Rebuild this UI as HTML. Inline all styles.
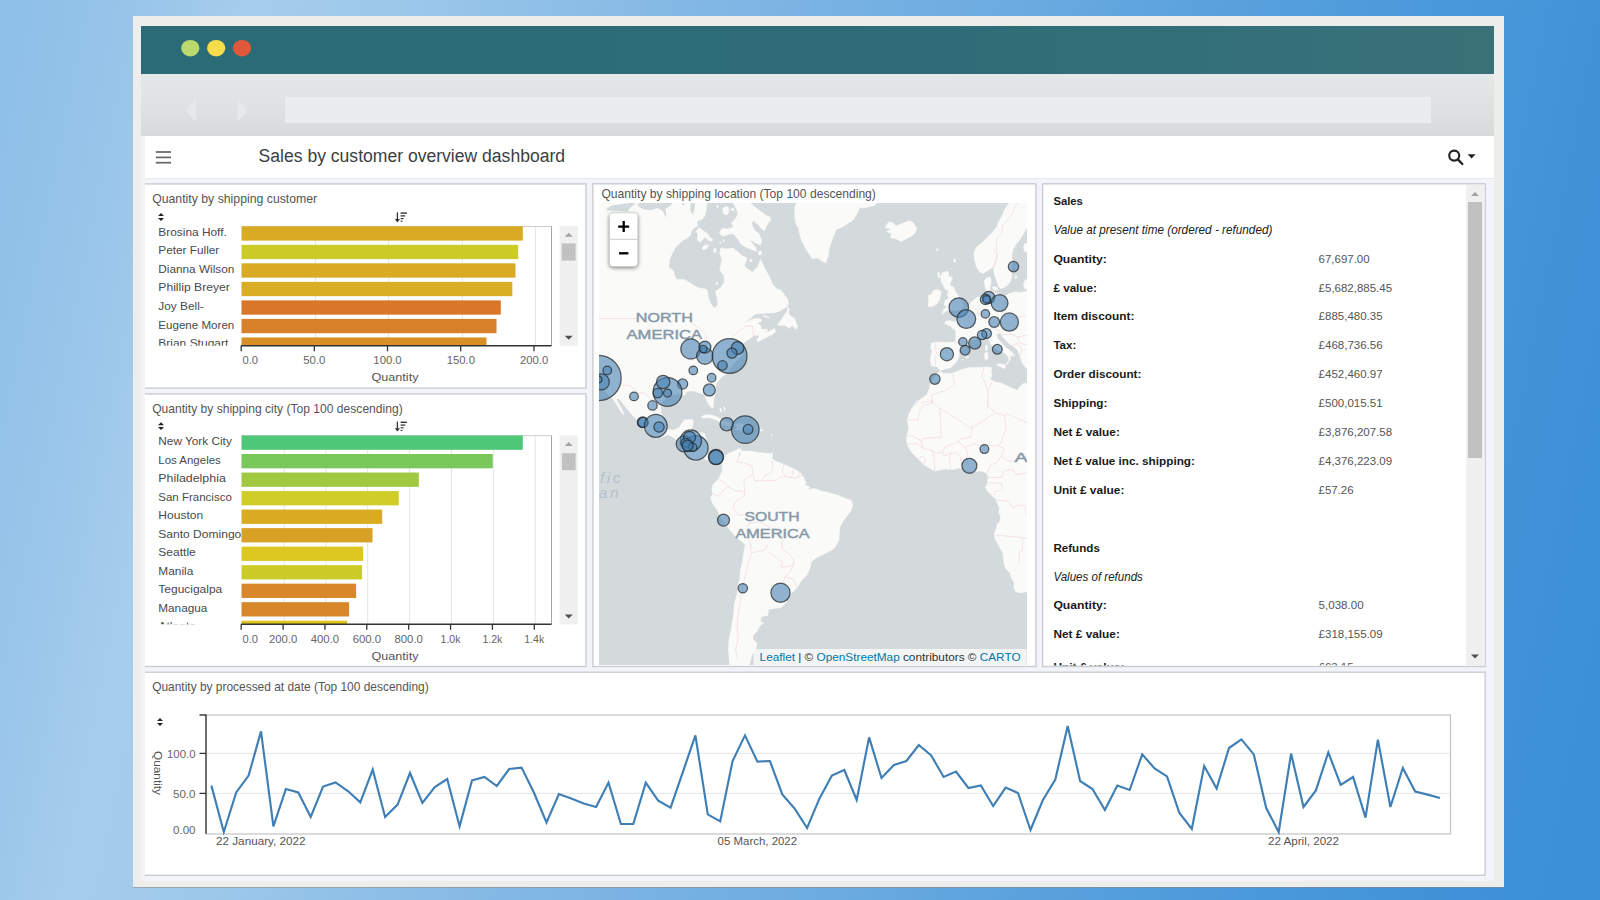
<!DOCTYPE html>
<html lang="en"><head><meta charset="utf-8"><title>Sales by customer overview dashboard</title>
<style>
html,body{margin:0;padding:0;}
body{width:1600px;height:900px;overflow:hidden;position:relative;font-family:"Liberation Sans", sans-serif;
 background:linear-gradient(101.3deg,#8dbfe7 0%,#97c4e9 7%,#a6cdec 14%,#9dc8ea 22%,#8bbde6 33%,#7ab3e3 45%,#6dace1 56%,#5ba2dd 67.5%,#4c9adb 79%,#4193d8 90%,#3a8fd6 100%);}
.abs{position:absolute;}
#frame{left:133px;top:16px;width:1371px;height:870.5px;background:#ededec;box-shadow:0 1px 0 rgba(150,130,110,.5);}
#teal{left:141px;top:26px;width:1353px;height:47.5px;background:linear-gradient(90deg,#2b6b75 0%,#2e6d77 60%,#35707a 85%,#3b7177 100%);}
#tool{left:141px;top:73.5px;width:1353px;height:62px;background:linear-gradient(180deg,#e4e8e8 0%,#dde1e1 60%,#d6dada 100%);}
#addr{left:285px;top:96.5px;width:1146px;height:26px;background:#eaeced;}
#app{left:145px;top:136px;width:1349px;height:744.5px;background:#f2f4f9;overflow:hidden;}
#lgap{left:141px;top:136px;width:4px;height:744.5px;background:#f3f3f3;}
#hdr{left:0;top:0;width:1349px;height:41.5px;background:#fff;border-bottom:1px solid #e6e9ee;}
.panel{background:#fff;border:1.5px solid #c6cacf;box-sizing:border-box;}
svg text{font-family:"Liberation Sans", sans-serif;}
</style></head>
<body>
<div id="frame" class="abs"></div>
<div id="teal" class="abs">
 <svg class="abs" style="left:0;top:0" width="1353" height="48">
  <ellipse cx="49.3" cy="22.2" rx="9.1" ry="8.3" fill="#bcd96e"/>
  <ellipse cx="75.2" cy="22.2" rx="9.1" ry="8.3" fill="#f5dc4a"/>
  <ellipse cx="101" cy="22.2" rx="9.1" ry="8.3" fill="#e1573a"/>
 </svg>
</div>
<div id="tool" class="abs">
 <svg class="abs" style="left:0;top:0" width="1353" height="62">
  <path d="M44.5 36.5 L55 25 V48 Z" fill="#e6e9ea"/>
  <path d="M96.5 25 L106.5 36.5 L96.5 48 Z" fill="#e6e9ea"/>
 </svg>
</div>
<div id="addr" class="abs"></div>
<div id="lgap" class="abs"></div>
<div id="app" class="abs">
 <div id="hdr" class="abs"></div>
 <svg class="abs" style="left:0;top:0" width="1349" height="745" viewBox="145 136 1349 745">
  <g fill="#fff" stroke="#c9cdd2" stroke-width="1.4">
   <rect x="130" y="183.9" width="456" height="204.2"/>
   <rect x="130" y="393.9" width="456" height="272.6"/>
   <rect x="592.9" y="183.8" width="443" height="482.7"/>
   <rect x="1042.6" y="183.8" width="442.6" height="482.7"/>
   <rect x="130" y="672.2" width="1355.2" height="203.1"/>
  </g>
 </svg>
</div>
<svg class="abs" style="left:599.4px;top:203.3px" width="427.4" height="461.4" viewBox="599.4 203.3 427.4 461.4">
<defs><filter id="zs" x="-30%" y="-20%" width="160%" height="140%"><feGaussianBlur stdDeviation="2"/><feOffset dy="1"/></filter></defs>
<rect x="598.4" y="202.3" width="429.4" height="463.4" fill="#d4dadc"/>
<g fill="#fafaf8" stroke="#fafaf8" stroke-width="0.5" stroke-linejoin="round">
<path d="M590 195 L708 195 L707.6 203.0 L706.6 209.7 L705.3 216.3 L701.9 219.7 L698.6 221.0 L697.3 223.0 L698.6 225.7 L695.3 227.7 L692.6 229.7 L691.2 235.0 L687.9 238.3 L684.6 239.7 L680.6 243.0 L675.9 247.7 L672.3 254.3 L669.9 260.3 L669.2 267.7 L673.9 271.0 L675.9 277.7 L677.2 279.7 L684.6 279.7 L691.2 283.7 L698.6 288.1 L706.0 289.4 L708.0 291.0 L708.4 296.3 L710.6 303.0 L714.6 308.6 L718.3 305.0 L717.3 297.7 L716.0 291.7 L721.3 287.7 L724.7 282.3 L724.4 275.7 L720.0 270.3 L721.3 265.0 L722.3 259.0 L720.0 253.7 L721.3 248.3 L726.7 249.3 L733.4 248.3 L738.0 252.1 L742.7 256.1 L747.4 258.3 L746.1 263.0 L744.5 265.7 L747.1 268.6 L752.7 272.6 L757.8 267.7 L761.0 259.7 L765.4 269.0 L770.1 277.7 L772.8 284.6 L778.1 289.7 L780.5 290.0 L783.5 293.0 L785.8 296.8 L788.4 299.8 L788.8 303.6 L788.0 307.0 L784.2 308.9 L780.5 311.2 L775.9 312.7 L769.1 313.4 L762.3 313.8 L755.5 314.2 L753.3 316.5 L749.5 319.5 L745.7 323.3 L742.7 327.8 L744.9 324.4 L750.2 320.6 L755.5 318.9 L760.8 319.1 L762.3 321.0 L758.5 323.3 L757.0 323.6 L760.8 325.5 L761.6 329.3 L764.6 331.2 L768.4 332.3 L772.9 330.1 L774.4 328.5 L776.3 331.6 L772.9 334.6 L768.4 336.9 L762.3 339.9 L758.5 342.2 L757.0 340.3 L760.1 336.1 L757.0 335.4 L754.0 336.1 L750.2 339.1 L744.9 342.2 L742 346 L741 352 L744 355 L740 358 L735 363 L730 370 L725.8 374.9 L722.0 377.2 L719.7 380.2 L717.4 383.3 L716.3 385.5 L716.1 389.3 L715.9 393.8 L714.4 398.4 L714.0 402.9 L713.7 407.4 L712.2 408.6 L709.9 405.9 L707.6 402.2 L706.1 398.4 L705.4 396.1 L703.5 394.2 L699.3 393.1 L695.5 391.6 L691.7 391.2 L688.0 391.6 L685.7 393.1 L686.1 395.4 L682.7 394.6 L678.1 394.2 L673.6 394.6 L669.1 396.1 L664.5 399.9 L661.8 403.0 L660.8 408.3 L661.2 412.3 L663.2 417.7 L665.2 423.7 L667.2 429.7 L673.9 430.3 L679.2 428.3 L682.6 423.0 L684.6 420.3 L692.6 419.7 L693.9 421.7 L692.6 427.0 L691.2 431.0 L692.6 433.0 L697.9 432.3 L704.6 433.7 L706.6 439.0 L707.3 448.3 L708.6 453.7 L712.6 454.3 L716.6 451.7 L722.0 453.7 L724.7 455.0 L723.3 464.3 L719.3 461.7 L714.0 462.3 L710.0 461.7 L704.6 459.0 L695.3 460.3 L685.9 453.7 L679.2 441.7 L673.9 437.7 L668.5 435.0 L661.8 437.7 L655.1 436.3 L645.8 432.3 L641.8 424.3 L636.4 419.0 L631.1 413.7 L625.7 407.0 L621.1 401.0 L619.1 398.3 L617.0 399.7 L619.7 405.0 L623.1 411.0 L624.4 415.0 L622.4 413.7 L619.1 408.3 L615.7 403.0 L612.4 397.7 L611.7 398.3 L607.0 393.0 L601.7 387.7 L596.3 382.3 L590 370Z"/>
<path d="M697.7 238.5 L698.5 234.7 L696.6 231.7 L699.2 227.9 L701.5 229.5 L704.5 231.7 L708.3 234.0 L709.4 237.0 L713.2 239.3 L712.5 241.5 L709.1 240.8 L705.3 237.4 L703.0 240.0 L700.0 242.7 L698.5 240.8Z"/>
<path d="M702.6 248.4 L704.5 245.7 L708.3 245.0 L708.7 246.8 L706.0 249.5 L703.4 249.9Z"/>
<path d="M714.0 249.9 L715.1 248.4 L716.5 249.0 L716.3 252.1 L714.7 253.3Z"/>
<path d="M719.8 241.9 L721.5 241.7 L721.9 243.4 L720.0 243.7Z"/>
<path d="M723.1 240.0 L724.3 240.4 L724.6 242.2 L723.6 241.7Z"/>
<path d="M716.0 284.3 L717.3 282.3 L718.3 283.0 L716.9 285.4Z"/>
<path d="M723.4 208.3 L726.1 206.6 L728.7 207.5 L729.3 211.3 L728.0 214.7 L724.9 215.1 L723.3 212.1Z"/>
<path d="M731.0 209.0 L734.0 208.9 L734.8 210.6 L731.7 210.9Z"/>
<path d="M717.0 206.0 L718.5 205.9 L718.6 207.5 L717.2 207.7Z"/>
<path d="M733.3 202.2 L735.5 206.8 L737.8 211.3 L738.2 215.1 L735.5 219.6 L731.7 223.4 L734.0 227.2 L730.2 228.7 L726.5 229.5 L723.4 228.3 L720.8 231.3 L720.3 234.0 L722.7 236.3 L726.1 236.1 L730.2 234.1 L734.0 234.4 L736.3 237.0 L739.3 240.8 L740.8 243.8 L744.6 246.5 L748.4 248.4 L752.9 250.2 L757.1 251.4 L755.9 247.6 L752.9 243.8 L749.1 240.0 L752.9 241.5 L757.4 243.8 L760.5 245.3 L761.6 243.8 L762.0 240.0 L760.5 237.0 L759.7 234.0 L756.7 232.1 L754.4 229.5 L752.9 226.4 L752.2 223.4 L754.0 220.8 L755.9 222.7 L759.7 225.7 L762.0 229.5 L765.0 231.0 L766.5 227.2 L768.0 224.2 L771.1 220.4 L770.3 217.4 L766.5 215.8 L762.7 212.8 L757.4 209.0 L752.9 205.3 L749.1 202.2Z"/>
<path d="M759.0 251.8 L761.6 251.4 L762.0 254.8 L759.3 255.2Z"/>
<path d="M750.2 260.1 L752.2 259.8 L752.3 261.7 L750.3 261.8Z"/>
<path d="M788.4 308.1 L787.3 311.9 L785.0 314.9 L782.7 318.7 L779.7 322.5 L777.8 324.8 L780.5 325.7 L785.8 325.7 L788.4 327.8 L789.5 328.7 L792.6 325.7 L794.5 327.8 L795.6 329.5 L797.2 328.7 L798.0 326.4 L796.5 323.3 L795.0 318.9 L791.2 316.5 L788.9 313.4 L789.7 308.9Z"/>
<path d="M763.5 315.7 L766.9 316.3 L770.0 318.1 L767.2 317.8 L764.2 316.6Z"/>
<path d="M763.5 329.9 L766.1 329.3 L768.4 330.4 L766.1 331.2Z"/>
<path d="M701.3 417.9 L704.6 415.3 L710.0 415.0 L715.3 416.3 L720.0 418.7 L726.0 421.7 L730.7 423.7 L732.7 425.9 L727.3 425.9 L722.7 425.0 L720.0 421.7 L714.0 419.3 L708.6 417.9 L705.3 418.3Z"/>
<path d="M734.7 425.0 L739.4 423.7 L744.7 424.6 L750.1 425.7 L754.1 428.3 L751.4 429.9 L746.1 429.9 L740.7 430.7 L735.4 429.9 L738.0 427.7Z"/>
<path d="M723.3 429.9 L726.7 429.4 L729.3 430.7 L726.0 431.5Z"/>
<path d="M759.4 429.9 L762.8 429.7 L763.0 431.0 L759.7 431.3Z"/>
<path d="M720.0 409.0 L721.3 408.3 L722.3 412.3 L720.9 412.1Z"/>
<path d="M724.0 407.3 L724.9 407.3 L726.0 410.7 L724.9 410.5Z"/>
<path d="M771.5 435.0 L772.3 434.7 L772.5 436.6 L771.7 436.6Z"/>
<path d="M771.5 453.7 L773.1 453.1 L773.3 454.5 L771.7 454.7Z"/>
<path d="M720.0 461.7 L723.3 457.7 L724.7 455.0 L725.5 456.7 L728.1 454.0 L733.5 452.0 L738.8 449.3 L740.8 448.7 L741.8 451.3 L742.8 451.3 L749.5 451.3 L760.2 452.7 L770.9 454.0 L772.9 455.3 L772.2 458.7 L777.6 462.0 L784.3 464.7 L793.6 468.7 L800.3 472.7 L804.3 478.0 L806.3 483.3 L803.0 487.3 L799.7 488.7 L805.7 485.3 L810.3 487.3 L808.3 490.0 L815.0 488.7 L821.7 491.3 L828.4 492.7 L837.8 495.3 L845.8 498.7 L851.8 500.7 L853.1 506.0 L851.1 511.3 L847.1 516.7 L843.1 522.0 L840.4 527.3 L839.8 534.0 L839.1 540.7 L836.4 546.0 L833.7 549.6 L836.4 545.0 L832.4 550.3 L824.4 554.3 L816.4 558.3 L811.7 562.3 L810.3 569.0 L807.0 575.7 L801.7 581.0 L797.6 587.7 L791.0 594.3 L785.6 603.7 L781.6 607.7 L773.6 609.0 L768.9 609.7 L768.2 615.7 L761.6 617.0 L760.9 622.3 L764.2 623.0 L760.2 626.3 L757.5 631.7 L753.5 635.7 L753.5 639.7 L757.5 643.7 L756.2 649.0 L752.2 655.7 L749.5 666.3 L730.1 666.3 L729.5 658.3 L728.8 649.0 L729.5 639.7 L731.5 630.3 L732.8 622.3 L734.1 614.3 L734.8 603.7 L737.5 594.3 L738.8 585.0 L740.2 579.7 L740.8 571.7 L742.8 562.3 L744.2 553.0 L745.5 545.0 L744.2 543.3 L738.8 539.3 L733.5 534.0 L728.1 527.3 L724.1 522.0 L720.1 515.3 L717.4 510.0 L713.4 504.7 L711.0 498.0 L713.4 494.0 L712.1 490.0 L713.4 484.7 L718.8 479.3 L722.8 471.3 L722.5 466.0 L723.4 461.3Z"/>
<path d="M801.0 487.3 L805.0 485.7 L808.6 487.3 L807.0 489.7 L802.3 489.5Z"/>
<path d="M738.8 660.3 L742.8 659.7 L744.2 666.3 L738.8 666.3Z"/>
<path d="M797.5 202.2 L878.9 201.7 L874.9 205.7 L864.2 208.3 L860.2 207.7 L857.5 213.7 L853.5 220.3 L845.5 225.7 L841.4 227.7 L836.8 229.7 L834.1 236.3 L831.4 243.0 L829.4 249.7 L828.7 256.3 L826.1 263.3 L822.7 261.9 L818.7 258.3 L812.6 258.9 L809.6 254.4 L805.8 248.4 L802.0 240.8 L800.5 235.5 L799.0 228.7 L796.0 222.7 L794.9 215.1 L795.2 207.5Z"/>
<path d="M885.6 227.7 L888.9 222.3 L893.6 223.0 L896.3 226.3 L901.6 224.3 L909.6 221.0 L913.6 223.0 L917.0 228.3 L916.3 232.3 L912.3 236.3 L905.6 239.7 L901.6 241.7 L896.3 239.0 L890.9 237.9 L892.2 233.9 L886.9 231.7 L891.2 229.7Z"/>
<path d="M937.0 249.0 L938.4 249.0 L938.4 250.7 L937.0 250.7Z"/>
<path d="M954.4 259.7 L955.7 259.7 L955.5 262.3 L954.5 262.3Z"/>
<path d="M928.3 305.3 L929.2 299.7 L928.7 295.9 L932.5 294.1 L933.9 290.8 L938.1 289.8 L941.4 291.7 L940.9 295.9 L940.0 300.6 L937.2 304.4 L933.4 306.2 L929.7 307.2Z"/>
<path d="M942.8 273.0 L947.5 271.6 L949.4 272.5 L948.4 276.2 L953.1 277.7 L951.2 281.9 L950.3 285.6 L954.1 287.5 L955.9 292.2 L958.7 295.9 L959.7 298.7 L962.5 302.5 L964.4 305.3 L963.4 308.1 L960.6 310.0 L955.0 310.9 L949.4 310.2 L945.6 311.9 L942.3 314.7 L943.7 310.0 L947.5 307.2 L944.7 305.3 L945.6 300.6 L949.4 298.7 L947.5 295.0 L949.4 291.2 L945.6 289.4 L943.7 285.6 L941.9 281.9 L940.9 277.2Z"/>
<path d="M938.1 273.0 L939.8 272.5 L940.0 278.1 L938.6 277.7Z"/>
<path d="M1011.1 201.1 L1007.8 205.6 L1004.4 211.1 L1002.2 216.7 L998.9 222.2 L996.7 227.8 L992.2 233.3 L986.7 238.9 L982.2 243.3 L976.7 247.8 L974.4 253.3 L975.0 260.0 L976.7 266.7 L980.0 272.2 L983.3 273.9 L987.8 271.1 L991.1 268.9 L993.9 266.7 L994.4 273.3 L996.7 280.0 L998.9 286.7 L1001.1 288.9 L1004.4 287.8 L1007.8 285.6 L1010.6 282.2 L1012.2 276.7 L1011.7 271.1 L1012.2 262.2 L1012.2 255.6 L1013.3 250.0 L1016.7 244.4 L1021.1 238.9 L1024.4 233.3 L1026.7 228.9 L1030.0 227.8 L1030.0 201.1Z"/>
<path d="M1030.0 243.3 L1025.0 243.9 L1024.2 247.8 L1024.7 251.7 L1030.0 252.2Z"/>
<path d="M1030.0 279.4 L1025.6 280.2 L1023.9 284.4 L1024.7 288.9 L1030.0 289.4Z"/>
<path d="M1015.6 276.7 L1016.7 275.6 L1017.1 278.3 L1015.9 279.4Z"/>
<path d="M954.4 260.0 L955.6 259.8 L955.8 262.4 L954.7 262.4Z"/>
<path d="M984.5 280.9 L987.8 278.1 L990.6 277.2 L991.6 281.9 L990.6 286.6 L989.9 291.2 L986.9 291.2 L985.5 286.6Z"/>
<path d="M992.5 287.5 L995.3 287.0 L998.3 288.4 L997.2 290.5 L993.9 290.1Z"/>
<path d="M1028.1 291.2 L1020.6 292.7 L1015.0 292.2 L1009.4 294.1 L1004.7 296.9 L998.1 294.1 L991.6 291.2 L985.0 294.1 L981.2 296.9 L977.5 297.8 L973.7 300.6 L970.0 304.4 L968.1 307.2 L964.4 310.9 L960.6 315.6 L956.9 321.2 L954.1 322.2 L949.4 320.8 L945.2 322.2 L945.6 324.1 L951.2 326.9 L955.0 330.6 L954.1 325.0 L955.9 330.6 L956.4 336.2 L955.9 340.9 L955.0 342.3 L945.6 342.8 L936.2 342.3 L931.6 343.7 L931.1 347.5 L932.5 351.2 L931.6 355.9 L930.6 360.6 L932.0 366.2 L938.1 367.2 L940.9 370.9 L945.6 369.1 L951.2 368.1 L955.0 364.4 L957.8 360.6 L959.7 355.9 L959.2 352.2 L961.6 348.4 L964.4 345.2 L967.2 342.8 L970.0 340.9 L978.4 339.1 L984.1 337.7 L987.8 338.1 L988.7 338.7 L990.0 341.3 L991.3 344.7 L994.7 348.0 L998.7 350.7 L1002.7 351.7 L1006.0 354.0 L1008.7 357.3 L1009.7 360.7 L1008.3 364.0 L1006.7 365.0 L1007.7 362.7 L1009.0 361.3 L1011.0 359.3 L1010.5 357.0 L1012.7 355.3 L1014.8 356.8 L1014.1 354.3 L1010.7 351.3 L1006.7 348.0 L1003.3 344.7 L1000.7 342.0 L998.0 338.7 L997.0 336.0 L998.0 334.0 L1000.0 333.3 L1002.7 336.7 L1006.7 341.3 L1010.7 344.7 L1014.7 347.3 L1018.0 350.7 L1020.0 355.3 L1021.3 359.3 L1022.7 363.3 L1024.7 366.0 L1026.7 368.7 L1032.0 369.3 L1035 195Z"/>
<path d="M940.9 371.9 L943.7 373.7 L951.2 373.7 L955.0 372.8 L961.6 370.0 L969.1 368.1 L978.4 367.7 L987.8 367.2 L992.0 368.1 L991.6 371.9 L992.5 375.6 L990.6 379.4 L995.3 382.2 L1000.9 383.1 L1006.6 385.9 L1013.1 388.7 L1017.8 390.6 L1020.6 386.9 L1023.4 384.1 L1028.1 383.1 L1028.1 591.9 L1019.7 593.3 L1015.5 591.4 L1014.1 587.7 L1015.0 583.4 L1012.2 578.7 L1010.3 573.1 L1006.6 569.4 L1004.7 564.7 L1004.2 560.0 L1003.7 558.7 L1003.3 553.1 L1000.9 549.4 L998.1 543.7 L995.3 539.1 L994.8 533.4 L996.7 528.7 L997.7 524.1 L1000.5 521.2 L1000.9 517.5 L999.1 511.9 L1000.0 509.1 L998.1 504.4 L996.2 499.7 L992.5 495.9 L987.8 491.2 L985.9 487.5 L987.8 483.7 L987.8 480.0 L988.3 480.6 L988.7 476.9 L986.9 474.1 L984.1 471.7 L979.4 471.2 L973.7 472.2 L967.2 470.8 L963.4 469.4 L959.7 468.4 L953.1 469.8 L945.6 469.4 L940.0 470.3 L935.3 471.2 L929.7 468.4 L924.1 464.7 L918.4 459.1 L913.7 454.4 L910.0 449.7 L908.1 445.0 L906.7 440.3 L908.1 433.7 L909.1 427.2 L907.7 420.6 L909.1 415.0 L911.9 409.4 L915.6 403.7 L918.4 400.0 L913.7 409.0 L916.6 404.7 L920.3 400.0 L926.9 395.3 L929.2 390.6 L930.6 385.0 L933.0 380.3 L936.2 375.6 L939.1 372.8Z"/>
<path d="M997.0 364.7 L1000.0 364.0 L1005.3 364.7 L1006.0 367.7 L1004.0 368.7 L1000.7 366.7 L998.0 365.7Z"/>
<path d="M985.0 353.7 L986.3 352.8 L988.0 352.7 L988.4 359.3 L985.5 360.1Z"/>
<path d="M985.7 346.3 L986.7 345.2 L987.7 345.3 L987.7 350.7 L986.1 350.8Z"/>
<path d="M966.2 357.3 L968.6 356.9 L968.9 358.0 L966.7 358.4Z"/>
<path d="M962.5 359.9 L963.6 359.7 L963.7 360.4 L962.6 360.5Z"/>
</g>
<path fill="#d4dadc" d="M607.0 209.0 L612.4 205.7 L623.1 204.3 L637.1 202.3 L630.4 208.3 L627.7 211.7 L619.1 211.0 L607.0 210.7Z M637.8 204.3 L643.1 202.3 L673.2 202.3 L671.2 205.7 L665.8 209.0 L666.9 217.7 L665.6 216.3 L663.2 211.0 L657.8 208.3 L652.5 210.3 L644.5 209.7 L639.1 207.0Z M681.9 202.3 L684.8 202.3 L684.6 205.9 L682.6 205.4Z M691.0 202.3 L695.5 202.3 L694.7 211.0 L692.9 214.7 L690.7 211.0Z M712.0 237.0 L716.0 237.9 L723.3 241.7 L720.0 243.0 L714.0 240.3Z M739.4 452.9 L740.4 452.4 L741.0 456.0 L739.6 456.7Z"/>
<g fill="none" stroke="#eed3d7" stroke-width="0.8" stroke-opacity="0.75" stroke-linejoin="round">
<polyline points="932.5,400.0 932.5,403.7 924.1,405.6 921.2,409.4 919.4,413.1 918.4,420.2 908.1,420.2"/>
<polyline points="932.5,401.9 940.0,408.4 956.9,418.7 969.1,427.2 972.3,427.7"/>
<polyline points="940.0,408.4 941.9,437.5 930.6,438.0 923.1,439.4 921.2,441.2"/>
<polyline points="972.3,427.7 983.1,421.6 995.3,413.1 1004.7,415.9 1007.5,414.1 1028.1,423.4"/>
<polyline points="995.3,413.1 988.7,405.6 987.8,400.0"/>
<polyline points="972.3,427.7 971.4,437.5 960.6,439.4 959.7,442.2 964.4,447.8 970.0,445.9 973.7,444.1 981.2,445.9 999.1,445.9 1001.9,441.2 1006.6,428.1 1004.7,415.9"/>
<polyline points="959.7,442.2 954.1,444.1 945.6,446.9 942.8,452.5 936.2,453.9 932.5,450.6 924.1,448.7 921.2,441.2 911.9,435.6 908.1,436.6"/>
<polyline points="908.1,444.1 917.5,444.1 921.2,446.9 924.1,448.7"/>
<polyline points="942.8,452.5 944.7,456.2 951.2,453.4 957.8,453.4 960.6,456.2 962.5,469.4"/>
<polyline points="951.2,453.4 949.8,460.9 951.2,469.4"/>
<polyline points="932.5,450.6 934.4,458.1 935.3,471.2"/>
<polyline points="918.4,459.1 923.1,456.2 925.9,460.0 924.1,464.7"/>
<polyline points="964.4,447.8 968.1,452.5 967.2,460.0 969.1,465.6"/>
<polyline points="999.1,445.9 1004.7,448.7 1001.9,456.2 996.2,463.7 991.6,464.7 986.9,474.1"/>
<polyline points="1001.9,456.2 1005.6,460.0 1013.1,461.9 1028.1,456.2"/>
<polyline points="988.7,477.8 1001.9,477.8 1004.7,471.2 1013.1,469.4 1015.9,475.0 1028.1,473.1"/>
<polyline points="987.8,482.8 1001.9,483.7 1002.8,490.3 994.4,492.2 995.3,495.9"/>
<polyline points="996.2,500.2 1009.4,501.6 1013.1,508.1 1018.7,505.3 1025.3,506.2 1026.2,513.7"/>
<polyline points="995.3,536.2 1000.9,535.8 1015.9,537.2 1028.1,538.6"/>
<polyline points="1023.4,539.1 1022.5,551.2 1019.7,552.2 1019.7,564.0"/>
<polyline points="739.5,456.0 737.5,462.0 744.2,463.3 752.2,466.0 753.5,474.0 754.9,480.7 761.6,481.3"/>
<polyline points="761.6,481.3 765.6,475.3 772.2,472.7 773.6,466.0 772.2,462.0 776.3,460.7"/>
<polyline points="784.3,464.7 782.9,471.3 785.6,476.7"/>
<polyline points="793.6,468.7 793.6,475.3 791.0,478.0"/>
<polyline points="800.3,472.7 797.6,478.0"/>
<polyline points="761.6,481.3 776.3,480.7 778.9,478.0 785.6,476.7 791.0,478.0 797.6,478.0 803.0,475.3"/>
<polyline points="718.8,479.3 725.5,483.3 729.5,487.3 736.1,491.3 742.8,491.3 745.5,495.3 744.2,480.7 753.5,474.0"/>
<polyline points="713.4,494.0 718.8,496.7 725.5,488.7 729.5,487.3"/>
<polyline points="745.5,495.3 736.1,502.0 733.5,507.3 738.8,515.3 746.8,515.3 749.5,523.3"/>
<polyline points="749.5,523.3 746.8,531.3 749.5,540.7 752.2,547.3"/>
<polyline points="749.5,523.3 760.2,522.0 772.2,528.7 781.6,531.3 782.9,540.7 781.6,547.3"/>
<polyline points="749.5,545.0 752.2,553.0 749.5,561.0 746.8,571.7 744.2,582.3 742.8,589.0 740.8,601.0 738.8,614.3 737.5,627.7 738.8,638.3 736.1,649.0 737.5,659.7"/>
<polyline points="752.2,553.0 765.6,550.3 768.2,545.0"/>
<polyline points="768.2,551.7 782.9,562.3 781.6,567.7 791.0,566.3 795.0,562.3 791.0,555.7 782.9,549.0 782.9,545.0"/>
<polyline points="795.0,562.3 791.0,571.7 785.6,577.0 782.9,583.7"/>
<polyline points="785.6,577.0 793.6,579.7 797.6,587.7"/>
<polyline points="599.0,319.0 637.8,319.0"/>
<polyline points="692.6,323.7 700.6,329.0 706.0,334.3 707.3,339.7"/>
<polyline points="732.7,337.0 746.1,326.3 752.7,326.3 754.1,335.7 756.8,341.0"/>
<polyline points="621.7,385.7 629.7,385.7 639.1,393.0 644.5,393.0 652.5,399.7 661.8,406.3"/>
<polyline points="973.7,308.1 977.5,310.0 979.4,315.6 983.1,317.5"/>
<polyline points="977.5,302.5 979.4,306.2 983.1,317.5 990.6,321.2 992.5,327.8"/>
<polyline points="1004.7,296.9 1006.6,306.2 1001.9,310.0 1005.6,315.6 1013.1,314.7 1018.7,317.5 1026.2,315.6"/>
<polyline points="994.4,250.0 997.2,255.6 995.3,263.1 993.4,265.9"/>
<polyline points="936.2,342.8 935.3,349.4 937.2,353.1 935.3,357.8 936.2,366.2"/>
<polyline points="955.0,342.3 959.7,343.7 964.4,345.2"/>
<polyline points="953.1,373.7 955.0,385.0 945.6,390.6 932.5,395.3 932.5,401.9 921.2,402.8"/>
<polyline points="984.1,367.2 982.2,377.5 985.9,383.1 988.7,394.4 987.8,409.0"/>
<polyline points="992.5,382.2 988.7,390.6"/>
<polyline points="990.6,325.0 992.5,328.7 1000.0,330.6 1001.9,335.3"/>
<polyline points="1001.9,335.3 1011.2,334.4 1017.8,337.2 1028.1,335.3"/>
<polyline points="1011.2,346.6 1017.8,343.7 1022.5,349.4 1019.7,356.9"/>
<polyline points="1017.8,337.2 1020.6,343.7 1028.1,345.6"/>
<polyline points="1018.9,203.1 1015.6,206.7 1013.3,213.3 1007.8,220.0 1003.3,225.6 1002.2,233.3 997.8,237.8 996.7,246.7 997.8,255.6 995.6,264.4 993.9,268.9"/>
</g>
<text x="664.7" y="322.1" font-size="13.2" textLength="57" font-family="Liberation Sans, sans-serif" fill="#8699a8" stroke="#8699a8" stroke-width="0.45" text-anchor="middle" lengthAdjust="spacingAndGlyphs">NORTH</text>
<text x="664.7" y="339.7" font-size="13.2" textLength="75.5" font-family="Liberation Sans, sans-serif" fill="#8699a8" stroke="#8699a8" stroke-width="0.45" text-anchor="middle" lengthAdjust="spacingAndGlyphs">AMERICA</text>
<text x="772.4" y="521.5" font-size="13.2" textLength="55" font-family="Liberation Sans, sans-serif" fill="#8699a8" stroke="#8699a8" stroke-width="0.45" text-anchor="middle" lengthAdjust="spacingAndGlyphs">SOUTH</text>
<text x="772.9" y="538.8" font-size="13.2" textLength="74" font-family="Liberation Sans, sans-serif" fill="#8699a8" stroke="#8699a8" stroke-width="0.45" text-anchor="middle" lengthAdjust="spacingAndGlyphs">AMERICA</text>
<text x="1015" y="462.8" font-size="13.2" textLength="72" text-anchor="start" font-family="Liberation Sans, sans-serif" fill="#8699a8" stroke="#8699a8" stroke-width="0.45" lengthAdjust="spacingAndGlyphs">AFRICA</text>
<text x="600.3" y="483.3" font-size="15.5" font-style="italic" fill="#b4c1cb" letter-spacing="2.6" font-family="Liberation Sans, sans-serif">fic</text>
<text x="599.2" y="498.8" font-size="15.5" font-style="italic" fill="#b4c1cb" letter-spacing="2.6" font-family="Liberation Sans, sans-serif">an</text>
<g fill="#4682b4" fill-opacity="0.6" stroke="#222" stroke-opacity="0.7" stroke-width="1.25">
<circle cx="599" cy="378.3" r="22.6"/>
<circle cx="601.7" cy="382.3" r="8"/>
<circle cx="607.7" cy="370.7" r="4.3"/>
<circle cx="599" cy="379.7" r="3.3"/>
<circle cx="691.2" cy="349.3" r="10"/>
<circle cx="705.3" cy="356.3" r="8.3"/>
<circle cx="705.3" cy="347.4" r="6"/>
<circle cx="703.7" cy="349.3" r="3.7"/>
<circle cx="730" cy="356.3" r="17.4"/>
<circle cx="738" cy="348.3" r="6.3"/>
<circle cx="732.4" cy="353.4" r="5.1"/>
<circle cx="722.9" cy="365.7" r="4.7"/>
<circle cx="693.7" cy="370.7" r="4.3"/>
<circle cx="712" cy="378.1" r="4.3"/>
<circle cx="709.7" cy="390.3" r="6"/>
<circle cx="683" cy="384.3" r="5.1"/>
<circle cx="667.9" cy="392.3" r="14.4"/>
<circle cx="663.6" cy="382.3" r="6.7"/>
<circle cx="658.2" cy="393.4" r="4.7"/>
<circle cx="667.9" cy="393.4" r="4"/>
<circle cx="634.4" cy="396.7" r="4.3"/>
<circle cx="652.9" cy="405.7" r="4.7"/>
<circle cx="643.1" cy="422.5" r="5.4"/>
<circle cx="643.3" cy="422.8" r="5.0"/>
<circle cx="656.2" cy="426.2" r="11.4"/>
<circle cx="659.4" cy="427.3" r="5.2"/>
<circle cx="696.3" cy="448.2" r="12.2"/>
<circle cx="691.2" cy="441" r="10.7"/>
<circle cx="684.6" cy="444.3" r="8"/>
<circle cx="689.9" cy="437.7" r="6"/>
<circle cx="685.9" cy="443" r="4.4"/>
<circle cx="693.3" cy="447.7" r="4"/>
<circle cx="688" cy="446" r="5.5"/>
<circle cx="716.4" cy="457.4" r="7.6"/>
<circle cx="716.4" cy="457.6" r="7.2"/>
<circle cx="727.1" cy="424.6" r="6.7"/>
<circle cx="745.7" cy="429.9" r="13.8"/>
<circle cx="748.5" cy="429.7" r="4.9"/>
<circle cx="723.9" cy="520.4" r="6"/>
<circle cx="743.2" cy="588.6" r="4.7"/>
<circle cx="780.9" cy="593" r="9.6"/>
<circle cx="1013.9" cy="266.9" r="5.2"/>
<circle cx="959.2" cy="307.9" r="9.8"/>
<circle cx="966.7" cy="319.4" r="9.4"/>
<circle cx="989.2" cy="297.8" r="6.1"/>
<circle cx="985.9" cy="299.7" r="5.2"/>
<circle cx="986.9" cy="299.7" r="3.8"/>
<circle cx="1000" cy="303.3" r="8.4"/>
<circle cx="985.8" cy="314.2" r="4.2"/>
<circle cx="994.6" cy="322.4" r="5.4"/>
<circle cx="1009.8" cy="322.4" r="9.1"/>
<circle cx="986.9" cy="333.8" r="4.9"/>
<circle cx="982.5" cy="335.3" r="4.7"/>
<circle cx="963.3" cy="342.2" r="4.2"/>
<circle cx="975.2" cy="343.3" r="6.1"/>
<circle cx="965.5" cy="350.5" r="4.9"/>
<circle cx="947.3" cy="354.5" r="6.6"/>
<circle cx="997.7" cy="349.6" r="4.9"/>
<circle cx="935.3" cy="379.4" r="5.2"/>
<circle cx="984.8" cy="449.4" r="4.4"/>
<circle cx="969.8" cy="466.1" r="7.5"/>
</g>
<g><rect x="610" y="213.6" width="28" height="53.2" rx="4" fill="#000" fill-opacity="0.6" filter="url(#zs)"/><rect x="610" y="213.6" width="28" height="53.2" rx="4" fill="#fff"/><line x1="610" y1="239.6" x2="638" y2="239.6" stroke="#ccc" stroke-width="1"/><path d="M618.6 226.9 H629.6 M624.1 221.4 V232.4" stroke="#000" stroke-width="2.3" fill="none"/><path d="M619.4 253.6 H628.8" stroke="#000" stroke-width="2.3" fill="none"/></g>
<rect x="754" y="649.3" width="273" height="16" fill="#fff" fill-opacity="0.72"/>
<text y="661" font-size="11.8" font-family="Liberation Sans, sans-serif" fill="#333"><tspan x="760" fill="#0078a8">Leaflet</tspan><tspan> | © </tspan><tspan fill="#0078a8">OpenStreetMap</tspan><tspan> contributors © </tspan><tspan fill="#0078a8">CARTO</tspan></text>
</svg>
<svg class="abs" style="left:0;top:0" width="1600" height="900" viewBox="0 0 1600 900">
<line x1="155.8" y1="152" x2="171" y2="152" stroke="#666" stroke-width="1.7" />
<line x1="155.8" y1="157.4" x2="171" y2="157.4" stroke="#666" stroke-width="1.7" />
<line x1="155.8" y1="162.7" x2="171" y2="162.7" stroke="#666" stroke-width="1.7" />
<text x="258.6" y="162" font-size="17.6" fill="#3a3f44" textLength="306.5" lengthAdjust="spacingAndGlyphs" >Sales by customer overview dashboard</text>
<circle cx="1454.2" cy="155.6" r="5" fill="none" stroke="#222" stroke-width="2.1"/>
<line x1="1457.8" y1="159.4" x2="1462.3" y2="164" stroke="#222" stroke-width="2.4" stroke-linecap="round"/>
<path d="M1467.6 154.2 H1475.6 L1471.6 158.4 Z" fill="#222" stroke="none" stroke-width="1" />
<text x="152.2" y="203.2" font-size="12.2" fill="#555" textLength="165" lengthAdjust="spacingAndGlyphs" >Quantity by shipping customer</text>
<path d="M158 216.1 L161 213.1 L164 216.1 Z M158 217.9 L161 220.9 L164 217.9 Z" fill="#222" stroke="none" stroke-width="1" />
<path d="M397.4 212.4 V220.9" fill="none" stroke="#333" stroke-width="1.3" />
<path d="M394.79999999999995 219.0 L397.4 222.4 L400.0 219.0 Z" fill="#333" stroke="none" stroke-width="1" />
<line x1="400.59999999999997" y1="213.1" x2="406.9" y2="213.1" stroke="#333" stroke-width="1.4" />
<line x1="400.59999999999997" y1="215.9" x2="405.2" y2="215.9" stroke="#333" stroke-width="1.3" />
<line x1="400.59999999999997" y1="218.6" x2="403.59999999999997" y2="218.6" stroke="#333" stroke-width="1.2" />
<line x1="400.59999999999997" y1="221.20000000000002" x2="402.4" y2="221.20000000000002" stroke="#333" stroke-width="1.1" />
<clipPath id="clip226"><rect x="146" y="225.3" width="410" height="120.5"/></clipPath>
<line x1="241.5" y1="226.5" x2="551.5" y2="226.5" stroke="#ccc" stroke-width="1" />
<line x1="551.5" y1="226.3" x2="551.5" y2="345.8" stroke="#a6a6a6" stroke-width="1" />
<line x1="315.5" y1="226.8" x2="315.5" y2="345.8" stroke="#e4e4e4" stroke-width="1" />
<line x1="388.6" y1="226.8" x2="388.6" y2="345.8" stroke="#e4e4e4" stroke-width="1" />
<line x1="462.4" y1="226.8" x2="462.4" y2="345.8" stroke="#e4e4e4" stroke-width="1" />
<line x1="535.6" y1="226.8" x2="535.6" y2="345.8" stroke="#e4e4e4" stroke-width="1" />
<g clip-path="url(#clip226)">
<rect x="241.5" y="226.3" width="281.3" height="14.3" fill="#d9ab24" />
<text x="158.3" y="235.9" font-size="11.6" fill="#4a4a4a" textLength="68.5" lengthAdjust="spacingAndGlyphs" >Brosina Hoff.</text>
<rect x="241.5" y="244.82" width="276.7" height="14.3" fill="#cccc28" />
<text x="158.3" y="254.42" font-size="11.6" fill="#4a4a4a" textLength="61" lengthAdjust="spacingAndGlyphs" >Peter Fuller</text>
<rect x="241.5" y="263.34" width="274.0" height="14.3" fill="#d9ab24" />
<text x="158.3" y="272.94" font-size="11.6" fill="#4a4a4a" textLength="76" lengthAdjust="spacingAndGlyphs" >Dianna Wilson</text>
<rect x="241.5" y="281.86" width="270.8" height="14.3" fill="#d9ae24" />
<text x="158.3" y="291.46" font-size="11.6" fill="#4a4a4a" textLength="71.5" lengthAdjust="spacingAndGlyphs" >Phillip Breyer</text>
<rect x="241.5" y="300.38" width="259.3" height="14.3" fill="#d8772a" />
<text x="158.3" y="309.98" font-size="11.6" fill="#4a4a4a" textLength="45.5" lengthAdjust="spacingAndGlyphs" >Joy Bell-</text>
<rect x="241.5" y="318.9" width="255.0" height="14.3" fill="#d87f2a" />
<text x="158.3" y="328.5" font-size="11.6" fill="#4a4a4a" textLength="76" lengthAdjust="spacingAndGlyphs" >Eugene Moren</text>
<rect x="241.5" y="337.42" width="245.0" height="14.3" fill="#d98f26" />
<text x="158.3" y="347.02" font-size="11.6" fill="#4a4a4a" textLength="70" lengthAdjust="spacingAndGlyphs" >Brian Stugart</text>
</g>
<line x1="241.0" y1="345.8" x2="551.5" y2="345.8" stroke="#333" stroke-width="1.6" />
<line x1="241.2" y1="345.8" x2="241.2" y2="351.3" stroke="#333" stroke-width="1.3" />
<text x="250.2" y="363.8" font-size="10.6" fill="#666" textLength="15.5" lengthAdjust="spacingAndGlyphs" text-anchor="middle" >0.0</text>
<line x1="314.35" y1="345.8" x2="314.35" y2="351.3" stroke="#333" stroke-width="1.3" />
<text x="314.35" y="363.8" font-size="10.6" fill="#666" textLength="22.3" lengthAdjust="spacingAndGlyphs" text-anchor="middle" >50.0</text>
<line x1="387.5" y1="345.8" x2="387.5" y2="351.3" stroke="#333" stroke-width="1.3" />
<text x="387.5" y="363.8" font-size="10.6" fill="#666" textLength="28.3" lengthAdjust="spacingAndGlyphs" text-anchor="middle" >100.0</text>
<line x1="460.7" y1="345.8" x2="460.7" y2="351.3" stroke="#333" stroke-width="1.3" />
<text x="460.9" y="363.8" font-size="10.6" fill="#666" textLength="28.3" lengthAdjust="spacingAndGlyphs" text-anchor="middle" >150.0</text>
<line x1="534" y1="345.8" x2="534" y2="351.3" stroke="#333" stroke-width="1.3" />
<text x="534.1" y="363.8" font-size="10.6" fill="#666" textLength="28.3" lengthAdjust="spacingAndGlyphs" text-anchor="middle" >200.0</text>
<text x="395" y="381.2" font-size="11.6" fill="#555" textLength="47" lengthAdjust="spacingAndGlyphs" text-anchor="middle" >Quantity</text>
<rect x="559.6" y="226.3" width="18.3" height="119.4" fill="#f0f0f0" />
<rect x="561.7" y="243.4" width="13.899999999999977" height="17.2" fill="#c1c1c1" />
<path d="M564.75 236.8 L568.75 232.8 L572.75 236.8 Z" fill="#a3a3a3" stroke="none" stroke-width="1" />
<path d="M564.75 335.70000000000005 L568.75 339.70000000000005 L572.75 335.70000000000005 Z" fill="#505050" stroke="none" stroke-width="1" />
<text x="152.2" y="412.7" font-size="12.2" fill="#555" textLength="250.5" lengthAdjust="spacingAndGlyphs" >Quantity by shipping city (Top 100 descending)</text>
<path d="M158 425.3 L161 422.3 L164 425.3 Z M158 427.09999999999997 L161 430.09999999999997 L164 427.09999999999997 Z" fill="#222" stroke="none" stroke-width="1" />
<path d="M397.4 421.59999999999997 V430.09999999999997" fill="none" stroke="#333" stroke-width="1.3" />
<path d="M394.79999999999995 428.2 L397.4 431.59999999999997 L400.0 428.2 Z" fill="#333" stroke="none" stroke-width="1" />
<line x1="400.59999999999997" y1="422.29999999999995" x2="406.9" y2="422.29999999999995" stroke="#333" stroke-width="1.4" />
<line x1="400.59999999999997" y1="425.09999999999997" x2="405.2" y2="425.09999999999997" stroke="#333" stroke-width="1.3" />
<line x1="400.59999999999997" y1="427.79999999999995" x2="403.59999999999997" y2="427.79999999999995" stroke="#333" stroke-width="1.2" />
<line x1="400.59999999999997" y1="430.4" x2="402.4" y2="430.4" stroke="#333" stroke-width="1.1" />
<clipPath id="clip435"><rect x="146" y="434.5" width="410" height="189.79999999999995"/></clipPath>
<line x1="241.5" y1="435.7" x2="551.5" y2="435.7" stroke="#ccc" stroke-width="1" />
<line x1="551.5" y1="435.5" x2="551.5" y2="624.3" stroke="#a6a6a6" stroke-width="1" />
<line x1="284.3" y1="436.0" x2="284.3" y2="624.3" stroke="#e4e4e4" stroke-width="1" />
<line x1="326" y1="436.0" x2="326" y2="624.3" stroke="#e4e4e4" stroke-width="1" />
<line x1="367.7" y1="436.0" x2="367.7" y2="624.3" stroke="#e4e4e4" stroke-width="1" />
<line x1="409.6" y1="436.0" x2="409.6" y2="624.3" stroke="#e4e4e4" stroke-width="1" />
<line x1="451.5" y1="436.0" x2="451.5" y2="624.3" stroke="#e4e4e4" stroke-width="1" />
<line x1="493.4" y1="436.0" x2="493.4" y2="624.3" stroke="#e4e4e4" stroke-width="1" />
<line x1="535.3" y1="436.0" x2="535.3" y2="624.3" stroke="#e4e4e4" stroke-width="1" />
<g clip-path="url(#clip435)">
<rect x="241.5" y="435.5" width="281.3" height="14.3" fill="#4ec878" />
<text x="158.3" y="445.1" font-size="11.6" fill="#4a4a4a" textLength="73.5" lengthAdjust="spacingAndGlyphs" >New York City</text>
<rect x="241.5" y="454.02" width="251.2" height="14.3" fill="#78c85a" />
<text x="158.3" y="463.62" font-size="11.6" fill="#4a4a4a" textLength="62.5" lengthAdjust="spacingAndGlyphs" >Los Angeles</text>
<rect x="241.5" y="472.54" width="177.3" height="14.3" fill="#a0c840" />
<text x="158.3" y="482.14" font-size="11.6" fill="#4a4a4a" textLength="67.5" lengthAdjust="spacingAndGlyphs" >Philadelphia</text>
<rect x="241.5" y="491.06" width="157.3" height="14.3" fill="#d0cc28" />
<text x="158.3" y="500.66" font-size="11.6" fill="#4a4a4a" textLength="73.5" lengthAdjust="spacingAndGlyphs" >San Francisco</text>
<rect x="241.5" y="509.58" width="140.7" height="14.3" fill="#d9ab22" />
<text x="158.3" y="519.18" font-size="11.6" fill="#4a4a4a" textLength="45" lengthAdjust="spacingAndGlyphs" >Houston</text>
<rect x="241.5" y="528.1" width="131.0" height="14.3" fill="#d9a026" />
<text x="158.3" y="537.7" font-size="11.6" fill="#4a4a4a" textLength="83" lengthAdjust="spacingAndGlyphs" >Santo Domingo</text>
<rect x="241.5" y="546.62" width="121.6" height="14.3" fill="#dcc820" />
<text x="158.3" y="556.22" font-size="11.6" fill="#4a4a4a" textLength="37.5" lengthAdjust="spacingAndGlyphs" >Seattle</text>
<rect x="241.5" y="565.14" width="120.6" height="14.3" fill="#cccc28" />
<text x="158.3" y="574.74" font-size="11.6" fill="#4a4a4a" textLength="35" lengthAdjust="spacingAndGlyphs" >Manila</text>
<rect x="241.5" y="583.66" width="114.6" height="14.3" fill="#d8882a" />
<text x="158.3" y="593.26" font-size="11.6" fill="#4a4a4a" textLength="64" lengthAdjust="spacingAndGlyphs" >Tegucigalpa</text>
<rect x="241.5" y="602.18" width="107.6" height="14.3" fill="#d8862a" />
<text x="158.3" y="611.78" font-size="11.6" fill="#4a4a4a" textLength="49" lengthAdjust="spacingAndGlyphs" >Managua</text>
<rect x="241.5" y="620.7" width="105.7" height="14.3" fill="#dcc41e" />
<text x="158.3" y="630.3" font-size="11.6" fill="#4a4a4a" textLength="38" lengthAdjust="spacingAndGlyphs" >Atlanta</text>
</g>
<line x1="241.0" y1="624.3" x2="551.5" y2="624.3" stroke="#333" stroke-width="1.6" />
<line x1="241.2" y1="624.3" x2="241.2" y2="629.8" stroke="#333" stroke-width="1.3" />
<text x="250.2" y="642.8" font-size="10.6" fill="#666" textLength="15.5" lengthAdjust="spacingAndGlyphs" text-anchor="middle" >0.0</text>
<line x1="283.1" y1="624.3" x2="283.1" y2="629.8" stroke="#333" stroke-width="1.3" />
<text x="283.1" y="642.8" font-size="10.6" fill="#666" textLength="28.3" lengthAdjust="spacingAndGlyphs" text-anchor="middle" >200.0</text>
<line x1="324.95" y1="624.3" x2="324.95" y2="629.8" stroke="#333" stroke-width="1.3" />
<text x="324.95" y="642.8" font-size="10.6" fill="#666" textLength="28.3" lengthAdjust="spacingAndGlyphs" text-anchor="middle" >400.0</text>
<line x1="366.8" y1="624.3" x2="366.8" y2="629.8" stroke="#333" stroke-width="1.3" />
<text x="366.8" y="642.8" font-size="10.6" fill="#666" textLength="28.3" lengthAdjust="spacingAndGlyphs" text-anchor="middle" >600.0</text>
<line x1="408.7" y1="624.3" x2="408.7" y2="629.8" stroke="#333" stroke-width="1.3" />
<text x="408.7" y="642.8" font-size="10.6" fill="#666" textLength="28.3" lengthAdjust="spacingAndGlyphs" text-anchor="middle" >800.0</text>
<line x1="450.55" y1="624.3" x2="450.55" y2="629.8" stroke="#333" stroke-width="1.3" />
<text x="450.55" y="642.8" font-size="10.6" fill="#666" textLength="20" lengthAdjust="spacingAndGlyphs" text-anchor="middle" >1.0k</text>
<line x1="492.4" y1="624.3" x2="492.4" y2="629.8" stroke="#333" stroke-width="1.3" />
<text x="492.4" y="642.8" font-size="10.6" fill="#666" textLength="20" lengthAdjust="spacingAndGlyphs" text-anchor="middle" >1.2k</text>
<line x1="534.3" y1="624.3" x2="534.3" y2="629.8" stroke="#333" stroke-width="1.3" />
<text x="534.3" y="642.8" font-size="10.6" fill="#666" textLength="20" lengthAdjust="spacingAndGlyphs" text-anchor="middle" >1.4k</text>
<text x="395" y="659.9" font-size="11.6" fill="#555" textLength="47" lengthAdjust="spacingAndGlyphs" text-anchor="middle" >Quantity</text>
<rect x="559.6" y="435.5" width="18.3" height="189" fill="#f0f0f0" />
<rect x="562" y="453.2" width="13.600000000000023" height="17" fill="#c1c1c1" />
<path d="M564.75 446.0 L568.75 442.0 L572.75 446.0 Z" fill="#a3a3a3" stroke="none" stroke-width="1" />
<path d="M564.75 614.5 L568.75 618.5 L572.75 614.5 Z" fill="#505050" stroke="none" stroke-width="1" />
<text x="152.2" y="690.8" font-size="12.2" fill="#555" textLength="276.5" lengthAdjust="spacingAndGlyphs" >Quantity by processed at date (Top 100 descending)</text>
<path d="M157 721.1 L160 718.1 L163 721.1 Z M157 722.9 L160 725.9 L163 722.9 Z" fill="#222" stroke="none" stroke-width="1" />
<rect x="206" y="715" width="1244.5" height="119" fill="#fff" stroke="#c4c4c4" stroke-width="1.2"/>
<line x1="206" y1="753.4" x2="1450" y2="753.4" stroke="#e6e6e6" stroke-width="1" />
<line x1="206" y1="793.4" x2="1450" y2="793.4" stroke="#e6e6e6" stroke-width="1" />
<line x1="206" y1="714.5" x2="206" y2="833.8" stroke="#333" stroke-width="1.3" />
<line x1="199.5" y1="715" x2="206" y2="715" stroke="#333" stroke-width="1.4" />
<line x1="199.5" y1="753.4" x2="206" y2="753.4" stroke="#333" stroke-width="1.3" />
<line x1="199.5" y1="793.4" x2="206" y2="793.4" stroke="#333" stroke-width="1.3" />
<text x="195.5" y="757.5" font-size="10.6" fill="#666" textLength="28.5" lengthAdjust="spacingAndGlyphs" text-anchor="end" >100.0</text>
<text x="195.5" y="797.5" font-size="10.6" fill="#666" textLength="22.5" lengthAdjust="spacingAndGlyphs" text-anchor="end" >50.0</text>
<text x="195.5" y="833.8" font-size="10.6" fill="#666" textLength="22.5" lengthAdjust="spacingAndGlyphs" text-anchor="end" >0.00</text>
<text transform="translate(153.5,773) rotate(90)" text-anchor="middle" font-size="10.8" fill="#555" textLength="44" lengthAdjust="spacingAndGlyphs">Quantity</text>
<polyline points="211.4,785.6 223.8,832 236.2,792.4 248.6,775.6 261.0,731.4 273.4,826.4 285.9,789 298.3,792.4 310.7,817 323.1,786.6 335.5,782.4 347.9,791 360.3,802.4 372.7,769.6 385.1,817 397.6,804.6 410.0,773 422.4,803 434.8,787 447.2,779 459.6,826.4 472.0,780.4 484.4,777 496.8,786 509.2,769 521.6,767.6 534.1,793 546.5,822.4 558.9,794 571.3,798.6 583.7,803.6 596.1,807 608.5,782.6 620.9,824 633.3,824 645.8,782.6 658.2,800.6 670.6,807.6 683.0,771.6 695.4,735.4 707.8,814.4 720.2,821.4 732.6,761 745.0,735.4 757.4,761.6 769.9,761 782.3,794.4 794.7,808.6 807.1,828 819.5,798.4 831.9,775.6 844.3,770 856.7,800 869.1,737.4 881.5,778 893.9,765 906.4,761 918.8,745 931.2,755.4 943.6,777 956.0,771.6 968.4,788 980.8,785.4 993.2,806 1005.6,787.6 1018.0,793 1030.5,830 1042.9,800 1055.3,779.6 1067.7,726 1080.1,781 1092.5,789 1104.9,810 1117.3,785.6 1129.7,790 1142.2,754.4 1154.6,768.4 1167.0,776.4 1179.4,813 1191.8,829 1204.2,766 1216.6,788.6 1229.0,748 1241.4,739.4 1253.8,754.4 1266.2,808 1278.7,832 1291.1,753.6 1303.5,807 1315.9,790.4 1328.3,752.4 1340.7,785 1353.1,777 1365.5,817.6 1377.9,739.6 1390.4,807 1402.8,768 1415.2,791.6 1427.6,794.6 1440.0,798" fill="none" stroke="#3f7fb5" stroke-width="2.15" stroke-linejoin="miter"/>
<text x="216" y="845" font-size="11.2" fill="#555" textLength="89.6" lengthAdjust="spacingAndGlyphs" >22 January, 2022</text>
<text x="717.6" y="845" font-size="11.2" fill="#555" textLength="79.5" lengthAdjust="spacingAndGlyphs" >05 March, 2022</text>
<text x="1268" y="845" font-size="11.2" fill="#555" textLength="71" lengthAdjust="spacingAndGlyphs" >22 April, 2022</text>
<clipPath id="clipS"><rect x="1044" y="185" width="420" height="480.5"/></clipPath><g clip-path="url(#clipS)">
<text x="1053.4" y="204.8" font-size="11.8" fill="#1a1a1a" textLength="29.5" lengthAdjust="spacingAndGlyphs" font-weight="bold" >Sales</text>
<text x="1053.4" y="233.7" font-size="12.2" fill="#222" textLength="219" lengthAdjust="spacingAndGlyphs" font-style="italic" >Value at present time (ordered - refunded)</text>
<text x="1053.4" y="262.6" font-size="11.8" fill="#1a1a1a" textLength="53.5" lengthAdjust="spacingAndGlyphs" font-weight="bold" >Quantity:</text>
<text x="1318.6" y="262.6" font-size="11.6" fill="#555" textLength="51" lengthAdjust="spacingAndGlyphs" >67,697.00</text>
<text x="1053.4" y="291.5" font-size="11.8" fill="#1a1a1a" textLength="43.5" lengthAdjust="spacingAndGlyphs" font-weight="bold" >£ value:</text>
<text x="1318.6" y="291.5" font-size="11.6" fill="#555" textLength="73.5" lengthAdjust="spacingAndGlyphs" >£5,682,885.45</text>
<text x="1053.4" y="320.4" font-size="11.8" fill="#1a1a1a" textLength="81" lengthAdjust="spacingAndGlyphs" font-weight="bold" >Item discount:</text>
<text x="1318.6" y="320.4" font-size="11.6" fill="#555" textLength="64" lengthAdjust="spacingAndGlyphs" >£885,480.35</text>
<text x="1053.4" y="349.3" font-size="11.8" fill="#1a1a1a" textLength="23" lengthAdjust="spacingAndGlyphs" font-weight="bold" >Tax:</text>
<text x="1318.6" y="349.3" font-size="11.6" fill="#555" textLength="64" lengthAdjust="spacingAndGlyphs" >£468,736.56</text>
<text x="1053.4" y="378.2" font-size="11.8" fill="#1a1a1a" textLength="88" lengthAdjust="spacingAndGlyphs" font-weight="bold" >Order discount:</text>
<text x="1318.6" y="378.2" font-size="11.6" fill="#555" textLength="64" lengthAdjust="spacingAndGlyphs" >£452,460.97</text>
<text x="1053.4" y="407.1" font-size="11.8" fill="#1a1a1a" textLength="54" lengthAdjust="spacingAndGlyphs" font-weight="bold" >Shipping:</text>
<text x="1318.6" y="407.1" font-size="11.6" fill="#555" textLength="64" lengthAdjust="spacingAndGlyphs" >£500,015.51</text>
<text x="1053.4" y="436.0" font-size="11.8" fill="#1a1a1a" textLength="66.5" lengthAdjust="spacingAndGlyphs" font-weight="bold" >Net £ value:</text>
<text x="1318.6" y="436.0" font-size="11.6" fill="#555" textLength="73.5" lengthAdjust="spacingAndGlyphs" >£3,876,207.58</text>
<text x="1053.4" y="464.9" font-size="11.8" fill="#1a1a1a" textLength="141.5" lengthAdjust="spacingAndGlyphs" font-weight="bold" >Net £ value inc. shipping:</text>
<text x="1318.6" y="464.9" font-size="11.6" fill="#555" textLength="73.5" lengthAdjust="spacingAndGlyphs" >£4,376,223.09</text>
<text x="1053.4" y="493.8" font-size="11.8" fill="#1a1a1a" textLength="71" lengthAdjust="spacingAndGlyphs" font-weight="bold" >Unit £ value:</text>
<text x="1318.6" y="493.8" font-size="11.6" fill="#555" textLength="35" lengthAdjust="spacingAndGlyphs" >£57.26</text>
<text x="1053.4" y="551.6" font-size="11.8" fill="#1a1a1a" textLength="46.5" lengthAdjust="spacingAndGlyphs" font-weight="bold" >Refunds</text>
<text x="1053.4" y="580.5" font-size="12.2" fill="#222" textLength="89.5" lengthAdjust="spacingAndGlyphs" font-style="italic" >Values of refunds</text>
<text x="1053.4" y="609.4" font-size="11.8" fill="#1a1a1a" textLength="53.5" lengthAdjust="spacingAndGlyphs" font-weight="bold" >Quantity:</text>
<text x="1318.6" y="609.4" font-size="11.6" fill="#555" textLength="45" lengthAdjust="spacingAndGlyphs" >5,038.00</text>
<text x="1053.4" y="638.3" font-size="11.8" fill="#1a1a1a" textLength="66.5" lengthAdjust="spacingAndGlyphs" font-weight="bold" >Net £ value:</text>
<text x="1318.6" y="638.3" font-size="11.6" fill="#555" textLength="64" lengthAdjust="spacingAndGlyphs" >£318,155.09</text>
<text x="1053.4" y="670.8" font-size="11.8" fill="#1a1a1a" textLength="71" lengthAdjust="spacingAndGlyphs" font-weight="bold" >Unit £ value:</text>
<text x="1318.6" y="670.8" font-size="11.6" fill="#555" textLength="35" lengthAdjust="spacingAndGlyphs" >£63.15</text>
</g>
<rect x="1466" y="185" width="18.5" height="481" fill="#f0f0f0" />
<rect x="1468" y="202" width="14" height="256" fill="#c1c1c1" />
<path d="M1471 196 L1475 192 L1479 196 Z" fill="#a3a3a3" stroke="none" stroke-width="1" />
<path d="M1471 654.5 L1475 658.5 L1479 654.5 Z" fill="#505050" stroke="none" stroke-width="1" />
<text x="601.4" y="198.2" font-size="12.2" fill="#555" textLength="274.5" lengthAdjust="spacingAndGlyphs" >Quantity by shipping location (Top 100 descending)</text>
</svg>
</body></html>
